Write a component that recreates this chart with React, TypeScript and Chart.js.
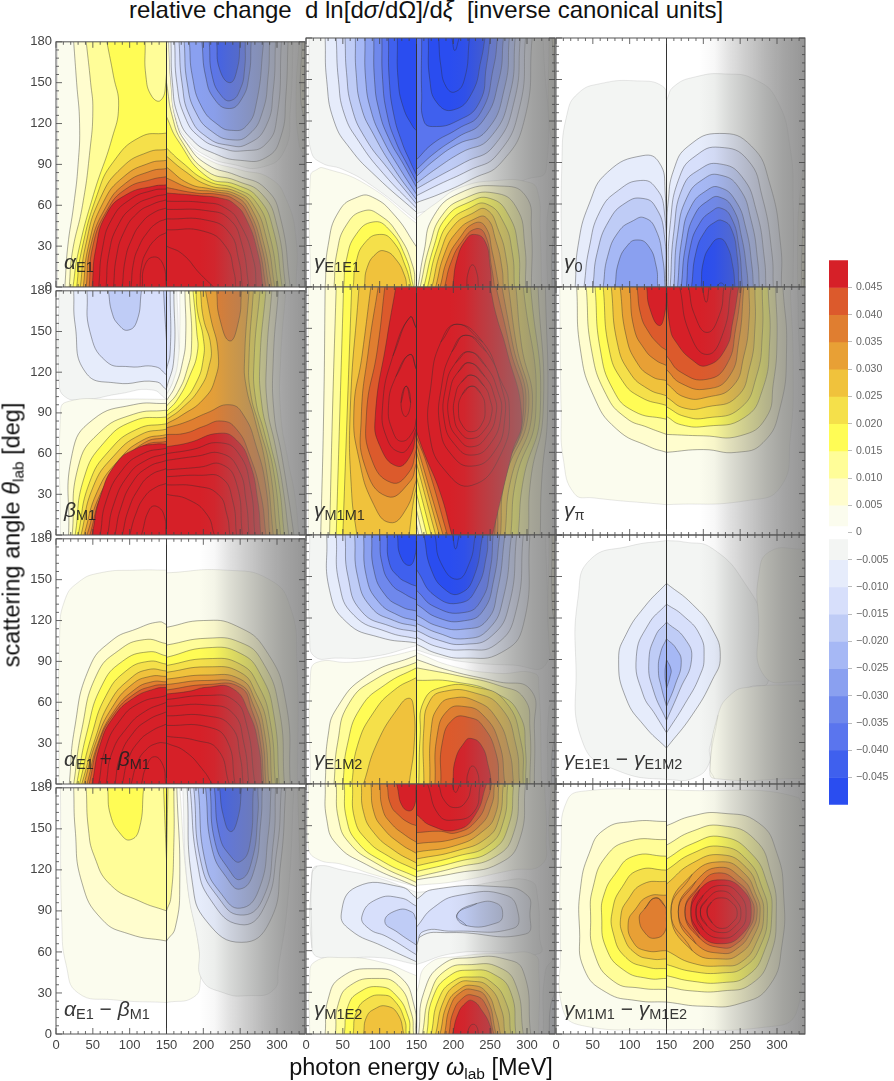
import { useEffect, useRef } from "react";
import { Chart, registerables } from "chart.js";

Chart.register(...registerables);

const FONT = "'Liberation Sans', Arial, sans-serif";

// contour regions: [level, energy, angle, energy, angle, ...], drawn in list order
// level n>0 means d > (n-1)*0.005, level n<0 means d < (n+1)*0.005
const alphaE1 = [
  [1, 2,0, 2,180, 150,180, 150,0],
  [2, 24,180, 28,150, 32,120, 30,90, 24,60, 16,30, 12,0, 150,0, 150,180],
  [3, 41,180, 47,150, 50,130, 46,100, 36,60, 22,25, 18,0, 150,0, 150,180],
  [4, 69,180, 78,155, 85,133, 76,109, 51,68, 30,25, 23,0, 150,0, 150,180],
  [3, 121,180, 122,155, 130,140, 142,137, 149,150, 150,180],
  [5, 150,113, 114,110, 78,92, 56,68, 34,25, 28,0, 150,0],
  [6, 150,101, 125,99, 90,88, 60,65, 40,30, 33,0, 150,0],
  [7, 150,93, 127,91, 92,81, 64,62, 44,30, 37,0, 150,0],
  [8, 150,87, 128,85, 94,76, 68,59, 47,30, 41,0, 150,0],
  [9, 150,81, 130,79, 95,72, 69,56, 50,30, 45,0, 150,0],
  [10, 150,75, 132,74, 96,68, 69,54, 54,28, 49,0, 150,0],
  [11, 150,72, 132,71, 100,64, 76,50, 63,28, 58,0, 150,0],
  [12, 150,68, 132,66, 105,59, 84,45, 72,25, 68,0, 150,0],
  [13, 150,64, 132,61, 110,54, 92,40, 82,22, 78,0, 150,0],
  [14, 150,58, 134,55, 116,47, 102,34, 94,20, 90,0, 150,0],
  [15, 150,50, 137,47, 124,40, 112,29, 105,17, 102,0, 150,0],
  [16, 150,40, 137,36, 123,26, 116,15, 114,0, 150,0],
  [17, 117,0, 120,15, 132,22, 145,17, 150,0],
  [1, 152,180, 154,150, 160,125, 175,108, 205,94, 250,86, 290,80, 312,65, 326,35, 326,0, 150,0, 150,180],
  [2, 150,180, 153,180, 156,150, 163,122, 178,105, 205,90, 245,82, 285,72, 305,50, 318,0, 150,0],
  [3, 150,150, 158,125, 172,106, 205,85, 245,78, 280,68, 300,45, 312,0, 150,0],
  [4, 150,125, 165,108, 205,81, 245,75, 275,65, 295,42, 307,0, 150,0],
  [5, 150,102, 170,92, 205,78, 245,72, 272,62, 290,38, 302,0, 150,0],
  [6, 150,96, 175,85, 205,75, 245,70, 268,60, 286,35, 297,0, 150,0],
  [7, 150,88, 180,76, 210,72, 245,68, 265,58, 282,32, 293,0, 150,0],
  [8, 150,80, 185,72, 215,70, 245,66, 262,56, 279,30, 289,0, 150,0],
  [9, 150,73, 190,69, 220,68, 243,64, 260,54, 276,28, 285,0, 150,0],
  [10, 150,69, 195,67, 225,65, 242,61, 258,50, 274,25, 281,0, 150,0],
  [11, 150,63, 200,62, 230,58, 250,46, 268,20, 272,0, 150,0],
  [12, 150,57, 205,56, 235,50, 252,32, 262,0, 150,0],
  [13, 150,50, 205,49, 235,40, 248,20, 253,0, 150,0],
  [14, 150,42, 200,41, 230,30, 242,10, 244,0, 150,0],
  [15, 150,30, 172,24, 195,10, 214,0, 150,0],
  [-1, 153,180, 156,150, 162,125, 178,108, 205,96, 240,90, 280,88, 310,100, 318,130, 322,180],
  [-2, 156,180, 158,150, 166,125, 185,108, 215,98, 250,93, 285,95, 305,110, 312,140, 315,180],
  [-3, 161,180, 164,150, 175,125, 195,110, 225,102, 255,100, 285,105, 300,125, 306,180],
  [-4, 167,180, 171,150, 182,125, 205,110, 235,104, 260,105, 285,118, 295,145, 298,180],
  [-5, 174,180, 178,150, 190,128, 212,114, 240,108, 262,112, 280,128, 288,155, 290,180],
  [-6, 181,180, 185,155, 198,132, 220,119, 238,115, 258,118, 272,135, 282,180],
  [-7, 198,180, 203,155, 215,138, 235,131, 252,138, 262,155, 265,180],
  [-8, 208,180, 212,155, 225,140, 238,137, 250,145, 256,160, 257,180],
  [-9, 218,180, 222,160, 236,150, 246,160, 250,180],
  [1, 330,180, 326,140, 330,105, 338,95, 338,180],
  [2, 334,180, 332,140, 338,120, 338,180],
];

const gammaE1E1 = [
  [-1, 4,180, 4,120, 7,98, 20,90, 50,85, 90,73, 150,48, 150,180],
  [-2, 26,180, 28,150, 38,120, 60,100, 95,80, 150,54, 150,180],
  [-3, 41,180, 44,150, 52,125, 72,105, 105,82, 150,57, 150,180],
  [-4, 53,180, 55,155, 62,130, 80,108, 112,85, 150,60, 150,180],
  [-5, 67,180, 68,155, 75,130, 92,110, 120,85, 150,63, 150,180],
  [-6, 80,180, 81,150, 88,128, 103,108, 128,85, 150,67, 150,180],
  [-7, 92,180, 93,150, 99,128, 112,108, 133,88, 150,72, 150,180],
  [-8, 103,180, 104,150, 110,125, 122,105, 138,88, 150,76, 150,180],
  [-9, 112,180, 113,150, 119,125, 130,105, 142,90, 150,81, 150,180],
  [-10, 124,180, 125,150, 132,130, 145,116, 150,113, 150,180],
  [1, 6,0, 6,80, 15,85, 24,86, 82,74, 150,46, 150,0],
  [2, 26,0, 30,30, 45,55, 70,65, 90,65, 120,52, 150,29, 150,0],
  [3, 38,0, 42,25, 55,45, 78,55, 100,52, 125,38, 145,15, 148,0],
  [4, 51,0, 55,20, 68,38, 91,47, 112,42, 135,22, 146,0],
  [5, 64,0, 68,18, 80,32, 100,38, 118,33, 135,15, 143,0],
  [6, 79,0, 83,14, 95,24, 107,26, 122,20, 134,8, 137,0],
  [-1, 150,53, 190,59, 240,68, 300,78, 326,85, 322,180, 150,180],
  [-2, 150,61, 185,68, 225,78, 265,90, 297,122, 307,180, 150,180],
  [-3, 150,66, 180,74, 220,84, 260,96, 290,130, 298,180, 150,180],
  [-4, 150,71, 180,80, 215,90, 255,102, 283,135, 291,180, 150,180],
  [-5, 150,75, 178,86, 210,97, 250,108, 277,140, 284,180, 150,180],
  [-6, 150,80, 175,92, 205,103, 245,113, 270,145, 276,180, 150,180],
  [-7, 150,85, 175,97, 205,108, 240,120, 262,150, 268,180, 150,180],
  [-8, 150,92, 173,104, 205,114, 237,126, 255,160, 260,180, 150,180],
  [-9, 157,180, 157,140, 160,120, 172,116, 205,120, 235,133, 245,160, 250,180],
  [-10, 166,180, 168,150, 178,133, 200,128, 225,140, 238,165, 243,180],
  [-11, 180,180, 183,160, 190,145, 202,141, 215,150, 222,180],
  [-12, 198,180, 202,171, 208,180],
  [1, 150,50, 175,60, 210,72, 260,77, 300,76, 314,70, 318,40, 320,0, 150,0],
  [2, 152,0, 160,25, 173,51, 209,68, 263,73, 298,66, 306,41, 306,0],
  [3, 155,0, 168,30, 185,52, 215,64, 255,68, 285,58, 297,30, 298,0],
  [4, 160,0, 174,30, 190,50, 220,61, 250,64, 275,52, 288,28, 290,0],
  [5, 165,0, 178,28, 195,47, 222,57, 245,60, 268,47, 280,25, 283,0],
  [6, 171,0, 183,26, 200,44, 225,53, 245,56, 262,40, 272,20, 275,0],
  [7, 176,0, 188,24, 205,40, 228,49, 245,50, 258,33, 266,14, 268,0],
  [8, 182,0, 192,20, 208,35, 228,46, 243,44, 253,25, 262,0],
  [9, 188,0, 197,18, 212,33, 230,42, 243,38, 252,14, 256,0],
  [10, 199,0, 205,20, 217,34, 229,38, 243,33, 250,15, 252,0],
  [11, 218,0, 220,10, 226,16, 232,10, 234,0],
  [-1, 338,65, 330,60, 327,30, 328,0, 338,0],
  [-2, 338,40, 334,25, 334,0, 338,0],
  [1, 330,180, 330,120, 338,95, 338,180],
  [2, 334,180, 338,150, 338,180],
];

const gamma0 = [
  [-1, 8,0, 8,90, 15,125, 30,140, 60,147, 110,149, 145,145, 150,135, 150,0],
  [-1, 150,135, 160,145, 190,152, 230,154, 270,150, 300,135, 318,100, 322,60, 322,0, 150,0],
  [-2, 26,0, 30,30, 45,60, 70,83, 118,95, 140,90, 148,70, 150,0],
  [-3, 38,0, 45,28, 60,55, 85,70, 115,77, 135,72, 147,55, 150,0],
  [-4, 50,0, 56,25, 72,48, 95,61, 118,64, 135,58, 147,38, 149,0],
  [-5, 64,0, 70,22, 85,40, 105,48, 120,50, 135,42, 145,20, 148,0],
  [-6, 80,0, 85,18, 97,30, 110,34, 125,30, 136,15, 138,0],
  [-2, 150,40, 152,60, 160,85, 180,102, 222,111, 265,102, 290,75, 305,30, 306,0, 150,0],
  [-3, 152,0, 155,45, 168,80, 190,95, 222,101, 260,92, 280,65, 293,25, 295,0],
  [-4, 155,0, 160,40, 172,72, 195,85, 222,89, 252,80, 272,55, 283,20, 285,0],
  [-5, 160,0, 165,38, 178,65, 200,78, 222,81, 248,72, 265,48, 274,18, 276,0],
  [-6, 165,0, 171,35, 183,58, 205,70, 222,72, 243,63, 258,42, 266,15, 268,0],
  [-7, 170,0, 176,30, 188,52, 208,63, 222,65, 240,57, 252,36, 259,12, 261,0],
  [-8, 177,0, 182,28, 195,46, 212,55, 224,57, 238,50, 248,30, 253,0],
  [-9, 184,0, 190,25, 202,40, 216,47, 226,48, 238,42, 246,22, 248,0],
  [-10, 197,0, 200,18, 210,30, 222,35, 232,30, 240,15, 243,0],
  [-11, 218,0, 224,3, 230,0],
  [1, 338,95, 330,60, 328,30, 328,0, 338,0],
  [2, 338,60, 334,30, 333,0, 338,0],
  [3, 338,25, 336,0, 338,0],
];

const betaM1 = [
  [-1, 4,180, 4,115, 12,102, 40,100, 85,104, 130,107, 150,100, 150,180],
  [-2, 24,180, 26,155, 40,120, 82,112, 135,113, 150,107, 150,180],
  [-3, 42,180, 46,150, 68,128, 100,124, 135,124, 150,118, 150,180],
  [-4, 71,180, 76,164, 85,155, 98,151, 110,158, 116,180],
  [-4, 146,180, 148,160, 150,143, 150,180],
  [1, 6,0, 6,88, 14,98, 82,100, 150,100, 150,0],
  [2, 17,0, 22,60, 50,85, 105,96, 150,97, 150,0],
  [3, 22,0, 30,50, 58,75, 105,89, 150,92, 150,0],
  [4, 26,0, 38,42, 65,68, 105,84, 150,87, 150,0],
  [5, 30,0, 45,38, 72,62, 110,78, 150,82, 150,0],
  [6, 34,0, 50,35, 78,58, 115,74, 150,78, 150,0],
  [7, 38,0, 56,32, 83,54, 118,70, 150,74, 150,0],
  [8, 42,0, 60,30, 88,52, 120,68, 150,72, 150,0],
  [9, 46,0, 62,30, 88,52, 120,66, 150,69, 150,0],
  [10, 49,0, 60,28, 82,53, 110,64, 135,67, 150,67, 150,0],
  [11, 60,0, 68,25, 90,48, 118,60, 150,64, 150,0],
  [12, 70,0, 78,22, 98,44, 122,55, 150,60, 150,0],
  [13, 80,0, 88,20, 104,39, 125,50, 150,55, 150,0],
  [14, 90,0, 98,18, 112,34, 128,44, 150,49, 150,0],
  [15, 100,0, 108,15, 120,28, 135,35, 150,38, 150,0],
  [16, 116,0, 127,19, 137,21, 147,14, 149,0],
  [-1, 150,180, 164,180, 166,150, 166,122, 155,108, 150,104],
  [-2, 150,180, 160,180, 160,130, 150,108],
  [-3, 150,180, 155,180, 155,135, 150,122],
  [1, 150,103, 160,115, 166,130, 168,150, 168,180, 312,180, 305,130, 305,90, 315,55, 324,30, 330,0, 150,0],
  [2, 150,99, 162,110, 172,128, 176,145, 175,180, 302,180, 295,130, 296,90, 306,60, 315,30, 323,0, 150,0],
  [3, 150,95, 165,105, 178,122, 184,140, 181,180, 293,180, 286,130, 287,95, 298,65, 308,35, 316,0, 150,0],
  [4, 150,91, 165,100, 182,118, 192,135, 191,150, 186,180, 285,180, 277,130, 279,98, 290,70, 302,40, 310,0, 150,0],
  [5, 150,88, 170,97, 190,112, 200,130, 200,145, 192,165, 190,180, 277,180, 269,130, 271,100, 283,75, 296,45, 305,0, 150,0],
  [6, 150,85, 170,93, 195,108, 208,125, 210,140, 200,160, 196,180, 268,180, 262,130, 264,105, 276,80, 290,50, 300,0, 150,0],
  [7, 150,82, 170,88, 200,100, 216,115, 220,135, 210,160, 203,180, 262,180, 256,130, 258,110, 270,85, 285,50, 295,0, 150,0],
  [8, 150,79, 175,83, 205,90, 236,96, 255,88, 272,65, 285,35, 290,0, 150,0],
  [8, 218,180, 222,160, 236,143, 248,158, 252,180],
  [9, 150,74, 175,75, 200,80, 225,84, 245,78, 262,60, 278,30, 285,0, 150,0],
  [10, 150,65, 180,68, 222,75, 245,70, 263,53, 274,25, 278,0, 150,0],
  [11, 150,60, 185,63, 222,68, 248,60, 264,35, 270,0, 150,0],
  [12, 150,55, 190,58, 225,60, 248,48, 258,25, 262,0, 150,0],
  [13, 150,48, 195,50, 225,52, 245,38, 253,0, 150,0],
  [14, 150,43, 195,44, 225,42, 240,25, 245,0, 150,0],
  [15, 150,37, 190,36, 220,30, 232,15, 236,0, 150,0],
  [16, 150,30, 180,26, 205,15, 215,0, 150,0],
];

const gammaM1M1 = [
  [1, 3,0, 3,180, 150,180, 150,0],
  [2, 26,180, 24,90, 20,0, 150,0, 150,180],
  [3, 41,180, 36,90, 32,0, 150,0, 150,180],
  [4, 51,180, 46,90, 41,0, 150,0, 150,180],
  [5, 62,180, 56,90, 50,0, 150,0, 150,180],
  [6, 72,180, 60,90, 62,30, 69,0, 140,0, 146,25, 150,35, 150,180],
  [7, 88,180, 76,130, 65,90, 72,55, 92,22, 114,9, 135,18, 150,40, 150,180],
  [8, 98,180, 85,135, 75,85, 80,50, 110,28, 140,38, 150,52, 150,180],
  [9, 107,180, 97,135, 82,87, 89,55, 116,38, 139,45, 150,62, 150,180],
  [10, 122,180, 110,143, 94,86, 100,65, 123,50, 141,57, 150,75, 150,180],
  [11, 141,158, 118,130, 104,94, 110,70, 128,60, 141,65, 150,78, 150,150, 141,158],
  [12, 141,131, 122,115, 112,94, 118,75, 130,68, 145,75, 150,85, 150,120, 141,131],
  [13, 136,108, 129,96, 135,86, 142,96, 136,108],
  [1, 150,180, 335,180, 335,0, 150,0],
  [2, 150,180, 325,180, 328,90, 320,40, 318,0, 153,0, 150,8],
  [3, 150,180, 315,180, 322,90, 305,40, 302,0, 158,0, 150,18],
  [4, 150,180, 305,180, 318,90, 295,40, 288,0, 164,0, 150,30],
  [5, 150,180, 295,180, 312,90, 285,40, 278,0, 170,0, 150,42],
  [6, 150,180, 285,180, 292,140, 307,90, 278,40, 270,0, 176,0, 150,52],
  [7, 150,180, 275,180, 285,140, 302,90, 270,40, 264,0, 181,0, 150,60],
  [8, 150,180, 266,180, 280,140, 298,90, 264,38, 260,0, 186,0, 150,66],
  [9, 150,180, 258,180, 276,138, 295,88, 262,35, 256,0, 192,0, 165,50, 150,71],
  [10, 150,180, 250,180, 258,160, 272,135, 293,85, 280,60, 253,0, 198,0, 182,31, 160,60, 150,75],
  [11, 205,153, 240,140, 262,115, 276,92, 264,58, 225,36, 190,46, 168,72, 170,110, 183,140, 205,153],
  [12, 217,145, 245,133, 265,108, 270,85, 255,60, 225,50, 198,58, 182,78, 184,108, 198,133, 217,145],
  [13, 222,133, 245,122, 260,105, 265,88, 250,66, 225,58, 203,65, 188,82, 190,108, 203,125, 222,133],
  [14, 222,125, 243,115, 255,102, 258,88, 246,72, 225,64, 207,70, 194,84, 196,106, 206,118, 222,125],
  [15, 225,116, 242,108, 250,98, 252,88, 242,76, 225,70, 210,74, 201,86, 203,102, 211,111, 225,116],
  [16, 225,108, 237,103, 243,92, 238,80, 225,75, 213,79, 207,90, 212,102, 225,108],
];

const gammaPi = [
  [1, 5,180, 7,90, 10,55, 25,30, 50,27, 150,22, 260,25, 305,35, 318,70, 322,120, 318,180],
  [-1, 338,100, 331,130, 328,180, 338,180],
  [2, 28,180, 33,135, 51,101, 82,77, 127,64, 150,60, 150,180],
  [3, 41,180, 48,135, 68,102, 95,85, 125,78, 150,73, 150,180],
  [4, 53,180, 60,135, 78,105, 105,90, 150,84, 150,180],
  [5, 64,180, 72,135, 90,112, 115,100, 150,94, 150,180],
  [6, 75,180, 83,140, 100,118, 125,106, 150,101, 150,180],
  [7, 87,180, 95,145, 110,125, 130,115, 150,112, 150,180],
  [8, 100,180, 106,150, 120,135, 135,127, 150,123, 150,180],
  [9, 110,180, 115,160, 125,148, 140,138, 150,134, 150,180],
  [10, 123,180, 127,165, 140,152, 148,162, 150,180],
  [2, 150,60, 200,62, 245,60, 281,67, 304,92, 313,135, 308,180, 150,180],
  [3, 150,73, 200,72, 250,72, 285,85, 295,110, 300,140, 298,180, 150,180],
  [4, 150,86, 170,80, 205,79, 255,85, 280,105, 290,140, 288,180, 150,180],
  [5, 150,93, 175,86, 205,85, 250,92, 272,115, 280,145, 280,180, 150,180],
  [6, 150,100, 175,92, 205,93, 245,100, 263,122, 270,150, 270,180, 150,180],
  [7, 150,110, 175,100, 205,100, 240,108, 255,130, 262,155, 262,180, 150,180],
  [8, 150,120, 170,110, 205,106, 235,115, 248,140, 255,180, 150,180],
  [9, 150,130, 170,118, 205,113, 232,124, 244,150, 252,180, 150,180],
  [10, 150,180, 155,150, 163,140, 185,127, 205,123, 230,135, 240,155, 248,180],
  [11, 168,180, 181,147, 205,131, 227,147, 238,180],
  [12, 180,180, 188,160, 205,147, 222,160, 228,180],
  [13, 198,180, 204,169, 208,180],
];

const alphaPlusBeta = [
  [1, 4,0, 5,110, 12,135, 30,148, 60,155, 110,157, 150,157, 150,0],
  [1, 150,155, 230,157, 290,150, 318,130, 327,90, 328,0, 150,0],
  [2, 18,0, 25,40, 45,85, 75,105, 110,114, 140,119, 150,117, 150,0],
  [3, 24,0, 35,40, 55,80, 85,98, 120,106, 150,103, 150,0],
  [4, 28,0, 42,38, 62,72, 90,90, 125,97, 150,94, 150,0],
  [5, 32,0, 48,35, 68,65, 95,83, 125,90, 150,88, 150,0],
  [6, 35,0, 53,33, 73,60, 100,77, 125,84, 150,83, 150,0],
  [7, 38,0, 55,32, 76,56, 103,73, 128,79, 150,79, 150,0],
  [8, 42,0, 57,30, 78,53, 106,69, 130,75, 150,75, 150,0],
  [9, 45,0, 58,30, 78,51, 106,66, 132,72, 150,73, 150,0],
  [10, 49,0, 60,29, 78,49, 105,63, 135,70, 150,71, 150,0],
  [11, 58,0, 67,26, 86,46, 112,59, 150,65, 150,0],
  [12, 68,0, 76,23, 96,41, 120,53, 150,60, 150,0],
  [13, 80,0, 87,20, 104,37, 125,47, 150,53, 150,0],
  [14, 90,0, 98,18, 112,31, 130,39, 150,44, 150,0],
  [15, 102,0, 110,15, 122,25, 138,30, 150,30, 150,0],
  [16, 116,0, 122,12, 133,20, 145,14, 149,0],
  [2, 150,115, 200,120, 245,116, 285,98, 312,60, 318,0, 150,0],
  [3, 150,102, 205,107, 250,104, 280,90, 303,55, 310,0, 150,0],
  [4, 150,93, 205,100, 250,96, 278,80, 296,50, 303,0, 150,0],
  [5, 150,87, 205,92, 250,88, 275,72, 291,45, 298,0, 150,0],
  [6, 150,82, 205,86, 250,82, 272,66, 287,42, 293,0, 150,0],
  [7, 150,77, 205,80, 250,77, 270,62, 283,38, 289,0, 150,0],
  [8, 150,73, 205,76, 250,73, 268,58, 280,35, 285,0, 150,0],
  [9, 150,69, 205,73, 250,71, 266,54, 277,32, 282,0, 150,0],
  [10, 150,66, 180,68, 205,71, 240,70, 262,52, 275,28, 280,0, 150,0],
  [11, 150,62, 205,65, 240,62, 258,45, 270,0, 150,0],
  [12, 150,57, 205,58, 240,52, 255,30, 262,0, 150,0],
  [13, 150,50, 205,50, 238,42, 250,20, 254,0, 150,0],
  [14, 150,43, 205,42, 232,32, 243,0, 150,0],
  [15, 150,35, 190,32, 220,25, 235,0, 150,0],
  [16, 150,30, 175,24, 200,10, 212,0, 150,0],
];

const gammaE1M2 = [
  [-1, 5,180, 5,105, 12,92, 40,91, 90,92, 150,100, 150,180],
  [-2, 28,180, 32,140, 55,117, 100,106, 150,102, 150,180],
  [-3, 41,180, 45,145, 65,122, 110,110, 150,105, 150,180],
  [-4, 53,180, 57,150, 75,125, 115,114, 150,110, 150,180],
  [-5, 66,180, 70,150, 88,128, 120,118, 150,114, 150,180],
  [-6, 78,180, 82,150, 98,132, 125,122, 150,118, 150,180],
  [-7, 89,180, 92,155, 107,137, 130,128, 150,125, 150,180],
  [-8, 100,180, 103,160, 115,145, 135,137, 150,133, 150,180],
  [-9, 110,180, 113,160, 125,150, 140,145, 150,143, 150,180],
  [-10, 124,180, 128,165, 140,158, 148,165, 150,180],
  [-1, 150,97, 180,92, 220,88, 280,86, 325,86, 328,120, 325,180, 150,180],
  [-2, 150,101, 180,94, 215,91, 265,95, 295,115, 304,180, 150,180],
  [-3, 150,106, 180,99, 215,97, 258,101, 285,125, 295,180, 150,180],
  [-4, 150,111, 180,104, 215,101, 252,107, 276,130, 286,180, 150,180],
  [-5, 150,116, 180,109, 215,105, 248,112, 268,135, 279,180, 150,180],
  [-6, 150,122, 180,114, 215,112, 245,118, 260,140, 270,180, 150,180],
  [-7, 150,130, 180,120, 215,118, 240,125, 255,148, 263,180, 150,180],
  [-8, 150,140, 175,128, 215,124, 238,133, 250,155, 254,180, 150,180],
  [-9, 150,155, 175,136, 210,131, 232,142, 245,165, 247,180, 150,180],
  [-10, 160,180, 170,155, 190,140, 210,138, 228,150, 240,180],
  [-11, 175,180, 183,160, 205,148, 222,160, 230,180],
  [-12, 199,180, 203,170, 208,180],
  [1, 6,0, 6,78, 15,88, 60,88, 110,92, 150,97, 150,0],
  [2, 26,0, 30,35, 42,55, 82,78, 150,93, 150,0],
  [3, 38,0, 43,30, 58,58, 95,76, 150,88, 150,0],
  [4, 50,0, 56,28, 74,55, 108,72, 150,84, 150,0],
  [5, 62,0, 70,28, 92,52, 120,68, 150,77, 150,0],
  [6, 78,0, 96,29, 125,55, 140,62, 146,55, 147,30, 140,0],
  [1, 150,95, 200,85, 260,80, 310,80, 316,70, 320,0, 150,0],
  [2, 150,90, 195,82, 260,74, 305,68, 310,40, 310,0, 150,0],
  [3, 150,84, 209,78, 263,71, 296,62, 304,40, 304,0, 150,0],
  [4, 150,75, 200,74, 260,65, 290,50, 298,25, 298,0, 150,0],
  [5, 153,0, 155,35, 160,60, 185,70, 230,70, 270,60, 292,30, 295,0],
  [6, 160,0, 160,40, 168,60, 188,67, 228,66, 265,55, 285,28, 290,0],
  [7, 168,0, 170,40, 180,56, 198,62, 230,60, 258,48, 276,24, 282,0],
  [8, 175,0, 178,35, 192,53, 215,56, 240,50, 262,30, 270,0],
  [9, 183,0, 185,30, 200,47, 222,48, 240,42, 258,22, 262,0],
  [10, 199,0, 203,18, 215,30, 223,33, 238,28, 248,12, 252,0],
  [11, 218,0, 220,8, 226,13, 233,8, 235,0],
  [-1, 338,60, 330,55, 328,0, 338,0],
  [-2, 338,35, 334,22, 333,0, 338,0],
  [1, 330,180, 330,100, 338,85, 338,180],
  [2, 334,180, 334,130, 338,115, 338,180],
];

const gammaE1Diff = [
  [-1, 150,176, 100,172, 46,162, 30,135, 27,87, 37,29, 82,10, 158,3, 190,5, 208,15, 209,27, 232,58, 263,70, 288,74, 281,116, 259,143, 213,170, 173,175, 150,176],
  [1, 209,12, 220,50, 238,65, 262,70, 338,72, 338,4, 215,4, 209,12],
  [1, 338,170, 290,168, 275,150, 275,120, 283,78, 338,74, 338,170],
  [-2, 150,145, 120,128, 95,108, 85,90, 95,62, 120,42, 150,26, 185,50, 212,75, 223,92, 212,112, 185,130, 150,145],
  [-3, 150,130, 125,115, 109,92, 118,65, 135,50, 150,37, 175,58, 195,78, 201,92, 195,108, 172,122, 150,130],
  [-4, 150,117, 135,107, 126,88, 132,68, 150,46, 168,68, 184,90, 175,105, 150,117],
  [-5, 150,105, 142,95, 139,82, 143,70, 150,56, 162,72, 170,88, 163,98, 150,105],
  [-6, 150,90, 148,80, 150,69, 155,78, 156,83, 150,90],
];

const alphaMinusBeta = [
  [1, 6,180, 8,80, 14,50, 30,30, 78,25, 150,23, 187,27, 196,39, 194,63, 178,111, 168,180],
  [2, 24,180, 26,150, 35,111, 62,84, 100,73, 150,68, 162,78, 168,111, 164,180],
  [3, 41,180, 44,150, 52,130, 74,109, 114,97, 150,90, 156,100, 160,140, 160,180],
  [4, 70,180, 74,160, 88,146, 101,142, 113,150, 119,180],
  [4, 146,180, 150,127, 152,180],
  [-1, 172,180, 178,111, 194,63, 198,40, 228,30, 259,28, 295,32, 302,49, 315,100, 323,180],
  [-2, 178,180, 185,111, 205,82, 252,67, 290,82, 305,125, 312,180],
  [-3, 182,180, 192,125, 210,98, 250,80, 282,92, 300,135, 306,180],
  [-4, 187,180, 197,125, 220,100, 250,87, 280,98, 295,140, 298,180],
  [-5, 193,180, 203,125, 225,102, 250,92, 275,105, 288,145, 292,180],
  [-6, 203,180, 212,135, 232,114, 250,106, 268,118, 278,155, 280,180],
  [-7, 209,180, 216,140, 235,120, 250,113, 265,125, 274,160, 274,180],
  [-8, 215,180, 222,145, 237,130, 250,126, 263,138, 268,180],
  [-9, 222,180, 227,160, 237,148, 247,158, 252,180],
  [1, 338,80, 332,120, 328,180, 338,180],
];

const gammaM1E2 = [
  [1, 3,180, 3,135, 15,126, 50,122, 90,115, 150,106, 150,180],
  [2, 26,180, 28,155, 41,137, 82,122, 150,106, 150,180],
  [3, 41,180, 44,155, 58,138, 95,123, 150,109, 150,180],
  [4, 52,180, 55,155, 70,138, 105,124, 150,113, 150,180],
  [5, 63,180, 66,155, 82,140, 112,128, 150,118, 150,180],
  [6, 75,180, 78,160, 92,145, 120,132, 150,123, 150,180],
  [7, 88,180, 92,160, 105,148, 128,137, 150,130, 150,180],
  [8, 100,180, 104,162, 115,152, 135,143, 150,138, 150,180],
  [9, 110,180, 115,165, 127,157, 140,152, 150,150, 150,180],
  [10, 123,180, 132,163, 145,162, 150,180],
  [-1, 8,115, 15,121, 50,118, 100,112, 150,102, 150,50, 100,55, 20,55, 8,62, 8,115],
  [-2, 150,98, 128,106, 69,106, 48,87, 60,75, 105,63, 150,52],
  [-3, 150,92, 128,98, 96,97, 76,85, 85,76, 110,70, 150,57],
  [-4, 150,82, 143,88, 123,89, 107,81, 125,73, 150,64],
  [1, 150,107, 205,110, 280,118, 320,122, 326,140, 324,180, 150,180],
  [2, 150,111, 205,116, 263,123, 290,140, 298,180, 150,180],
  [3, 150,113, 205,120, 258,128, 282,145, 290,180, 150,180],
  [4, 150,117, 205,124, 252,132, 275,150, 282,180, 150,180],
  [5, 150,121, 205,128, 248,136, 268,153, 274,180, 150,180],
  [6, 150,126, 205,132, 245,141, 262,155, 268,180, 150,180],
  [7, 150,131, 205,136, 240,146, 257,158, 262,180, 150,180],
  [8, 150,137, 205,141, 236,150, 252,165, 256,180, 150,180],
  [9, 150,145, 180,146, 205,145, 232,154, 247,170, 252,180, 150,180],
  [10, 150,158, 170,150, 205,147, 230,158, 245,180, 150,180],
  [11, 165,180, 180,158, 200,154, 228,160, 237,180],
  [12, 180,180, 188,168, 203,163, 218,168, 225,180],
  [13, 198,180, 203,174, 209,180],
  [-1, 150,102, 200,104, 263,110, 305,110, 314,100, 317,70, 317,58, 260,59, 200,58, 150,50],
  [-2, 150,97, 172,104, 263,106, 300,100, 304,87, 298,72, 195,73, 155,70, 150,58],
  [-3, 150,77, 173,91, 209,100, 271,100, 288,87, 281,76, 200,74, 160,74, 150,64],
  [-4, 205,86, 232,94, 259,94, 267,86, 259,80, 218,78, 205,86],
  [1, 5,0, 5,40, 12,52, 50,55, 100,52, 150,42, 150,0],
  [2, 26,0, 30,25, 48,41, 91,47, 128,41, 147,20, 149,0],
  [3, 40,0, 44,22, 60,35, 95,40, 125,35, 143,15, 146,0],
  [4, 52,0, 57,20, 72,30, 100,34, 122,28, 139,12, 141,0],
  [5, 64,0, 68,15, 82,25, 105,28, 120,24, 134,10, 136,0],
  [6, 78,0, 82,12, 93,18, 110,20, 125,14, 133,0],
  [1, 152,0, 150,30, 165,50, 210,56, 270,58, 310,57, 316,45, 316,0],
  [2, 153,0, 160,30, 185,50, 225,55, 270,54, 295,45, 305,0],
  [3, 158,0, 168,28, 190,46, 225,50, 262,48, 285,35, 295,0],
  [4, 164,0, 172,26, 195,42, 225,46, 255,43, 278,30, 285,0],
  [5, 170,0, 180,25, 200,38, 225,41, 250,38, 272,22, 278,0],
  [6, 176,0, 187,24, 205,36, 225,38, 248,34, 265,18, 270,0],
  [7, 182,0, 192,22, 208,32, 225,35, 245,30, 258,14, 264,0],
  [8, 188,0, 196,20, 210,30, 226,32, 245,26, 258,0],
  [9, 194,0, 200,16, 213,26, 226,28, 243,22, 255,0],
  [10, 199,0, 206,14, 216,22, 226,24, 240,16, 250,6, 252,0],
  [11, 219,0, 222,5, 227,7, 232,5, 234,0],
  [-1, 338,55, 325,45, 322,0, 338,0],
  [-2, 338,30, 332,20, 330,0, 338,0],
  [1, 333,180, 330,140, 338,120, 338,180],
];

const gammaM1Diff = [
  [1, 150,176, 40,175, 15,168, 7,135, 6,60, 9,18, 36,6, 150,3, 285,5, 326,15, 332,60, 335,120, 330,170, 150,176],
  [2, 150,153, 104,153, 65,147, 45,130, 33,104, 32,75, 38,47, 68,30, 110,24, 150,23],
  [3, 150,140, 100,139, 68,128, 50,105, 47,85, 52,58, 78,38, 115,33, 150,32],
  [4, 150,128, 105,128, 80,115, 65,100, 62,85, 68,62, 92,46, 125,40, 150,40],
  [5, 150,118, 112,118, 90,106, 77,90, 78,72, 95,55, 125,48, 150,47],
  [6, 150,110, 118,108, 98,97, 88,85, 92,70, 108,58, 130,54, 150,54],
  [7, 150,100, 125,99, 108,90, 98,80, 105,66, 122,60, 150,60],
  [8, 135,98, 120,90, 113,83, 122,72, 135,69, 148,74, 150,85, 148,92, 135,98],
  [2, 150,150, 185,157, 225,159, 275,152, 300,130, 309,100, 307,65, 290,35, 250,22, 200,20, 150,23],
  [3, 150,136, 185,146, 225,150, 270,140, 292,115, 299,87, 290,55, 265,36, 226,31, 185,31, 150,34],
  [4, 150,126, 185,137, 225,142, 265,130, 287,108, 293,87, 283,60, 260,42, 226,37, 185,38, 150,42],
  [5, 150,118, 185,130, 225,135, 260,125, 280,105, 287,87, 278,64, 255,48, 226,44, 185,45, 150,50],
  [6, 150,108, 185,123, 225,129, 258,120, 275,103, 282,87, 273,67, 252,52, 226,49, 185,51, 150,60],
  [7, 156,88, 185,115, 225,124, 255,116, 271,101, 277,87, 268,70, 250,58, 226,54, 185,60, 156,88],
  [8, 166,88, 190,110, 222,120, 252,112, 267,100, 273,87, 264,73, 247,62, 226,58, 190,65, 166,88],
  [9, 175,88, 195,107, 220,116, 250,108, 264,98, 269,87, 261,75, 245,65, 226,62, 195,69, 175,88],
  [10, 183,88, 195,104, 224,111, 253,104, 265,88, 253,72, 224,65, 195,72, 183,88],
  [11, 190,88, 200,100, 224,107, 248,101, 258,86, 247,74, 225,69, 200,75, 190,88],
  [12, 196,88, 205,97, 224,103, 243,97, 251,86, 242,77, 225,73, 205,78, 196,88],
  [13, 205,88, 211,95, 224,98, 238,95, 246,87, 239,80, 226,76, 212,80, 205,88],
];

const panelData = [alphaE1, gammaE1E1, gamma0, betaM1, gammaM1M1, gammaPi, alphaPlusBeta, gammaE1M2, gammaE1Diff, alphaMinusBeta, gammaM1E2, gammaM1Diff];

const panelLabels = [
  [["α", "E1"]],
  [["γ", "E1E1"]],
  [["γ", "0"]],
  [["β", "M1"]],
  [["γ", "M1M1"]],
  [["γ", "π"]],
  [["α", "E1"], [" + "], ["β", "M1"]],
  [["γ", "E1M2"]],
  [["γ", "E1E1"], [" − "], ["γ", "E1M2"]],
  [["α", "E1"], [" − "], ["β", "M1"]],
  [["γ", "M1E2"]],
  [["γ", "M1M1"], [" − "], ["γ", "M1E2"]],
];

// colour of a band, index = |level| - 1
const warmColors = ["#FBFCEE", "#FFFDCE", "#FFFD98", "#FFFC55", "#F5E04A", "#F0C23C", "#E8A035", "#E07E30", "#DC5A2C", "#D62028"];
const coolColors = ["#F3F5F3", "#E6ECFB", "#D7DFFB", "#BFCCF6", "#A6B8F5", "#8AA0F0", "#6F88EC", "#5A75EE", "#3F60EE", "#2A4DF0"];

// legend
const legendLows = [0.045, 0.04, 0.035, 0.03, 0.025, 0.02, 0.015, 0.01, 0.005, 0.0012, -0.0012, -0.005, -0.01, -0.015, -0.02, -0.025, -0.03, -0.035, -0.04, -0.045, -0.05];
const legendHighs = [0.05, 0.045, 0.04, 0.035, 0.03, 0.025, 0.02, 0.015, 0.01, 0.005, 0.0012, -0.0012, -0.005, -0.01, -0.015, -0.02, -0.025, -0.03, -0.035, -0.04, -0.045];

// grey fade towards the high energy side
const fadeEnergies = [195, 215, 236, 263, 285, 308, 338];
const fadeAlphas = [0, 0.06, 0.24, 0.43, 0.58, 0.71, 0.83];

const X_MAX = 338;
const PION_LINE = 150;
const colLefts = [56, 306, 556];
const rowTops = [38, 287, 535, 784];
const rowHeights = [249, 248, 249, 250];
const PANEL_W = 249;
const M = { left: 30, right: 8, top: 8, bottom: 24 };

const isEdge = (x: number, y: number) => x === 0 || x === X_MAX || x === PION_LINE || y === 0 || y === 180;

function regionPoints(region: number[]) {
  const raw: { x: number; y: number }[] = [];
  for (let i = 1; i < region.length; i += 2) raw.push({ x: region[i], y: region[i + 1] });
  const n = raw.length;
  // closed loop: run past the seam so the spline has no cusp at the start
  const closed = raw[0].x === raw[n - 1].x && raw[0].y === raw[n - 1].y && !isEdge(raw[0].x, raw[0].y);
  const walk = closed ? [raw[n - 2], ...raw, raw[1]] : raw;
  const pts: { x: number; y: number }[] = [];
  for (const p of walk) {
    pts.push({ ...p });
    // doubled point gives a sharp corner in the spline
    if (isEdge(p.x, p.y)) pts.push({ ...p });
  }
  return pts;
}

function bandColor(level: number) {
  const i = Math.min(Math.abs(level), 10) - 1;
  return level > 0 ? warmColors[i] : coolColors[i];
}

const panelFrame = {
  id: "panelFrame",
  afterDatasetsDraw(chart: any) {
    const { ctx, chartArea: a, scales } = chart;
    const xs = scales.x;
    const ys = scales.y;
    ctx.save();
    const grad = ctx.createLinearGradient(a.left, 0, a.right, 0);
    fadeEnergies.forEach((e, i) => {
      grad.addColorStop((xs.getPixelForValue(e) - a.left) / (a.right - a.left), `rgba(128,128,128,${fadeAlphas[i]})`);
    });
    ctx.fillStyle = grad;
    ctx.fillRect(xs.getPixelForValue(fadeEnergies[0]), a.top, a.right - xs.getPixelForValue(fadeEnergies[0]), a.bottom - a.top);

    ctx.strokeStyle = "#333";
    ctx.lineWidth = 1;
    const px = Math.floor(xs.getPixelForValue(PION_LINE)) + 0.5;
    ctx.beginPath();
    ctx.moveTo(px, a.top);
    ctx.lineTo(px, a.bottom);
    ctx.stroke();

    ctx.strokeStyle = "#444";
    ctx.lineWidth = 0.8;
    ctx.beginPath();
    for (let e = 0; e <= X_MAX; e += 10) {
      const p = xs.getPixelForValue(e);
      const len = e % 50 === 0 ? 6 : 3;
      ctx.moveTo(p, a.top);
      ctx.lineTo(p, a.top + len);
      ctx.moveTo(p, a.bottom);
      ctx.lineTo(p, a.bottom - len);
    }
    for (let d = 0; d <= 180; d += 6) {
      const p = ys.getPixelForValue(d);
      const len = d % 30 === 0 ? 6 : 3;
      ctx.moveTo(a.left, p);
      ctx.lineTo(a.left + len, p);
      ctx.moveTo(a.right, p);
      ctx.lineTo(a.right - len, p);
    }
    ctx.stroke();
    ctx.lineWidth = 1;
    ctx.strokeStyle = "#555";
    ctx.strokeRect(a.left, a.top, a.right - a.left, a.bottom - a.top);
    ctx.restore();
  },
};

function ContourPanel({ index }: { index: number }) {
  const ref = useRef<HTMLCanvasElement>(null);
  const col = index % 3;
  const row = Math.floor(index / 3);

  useEffect(() => {
    if (!ref.current) return;
    // chart.js paints dataset 0 last, so the list goes in reversed
    const datasets = [...panelData[index]].reverse().map((r) => ({
      data: regionPoints(r),
      fill: "shape",
      backgroundColor: bandColor(r[0]),
      borderColor: Math.abs(r[0]) === 1 ? "rgba(110,110,110,0.2)" : "rgba(45,45,45,0.5)",
      borderWidth: 0.8,
      pointRadius: 0,
      tension: 0.5,
    }));
    const chart = new Chart(ref.current, {
      type: "line",
      data: { datasets } as any,
      plugins: [panelFrame],
      options: {
        responsive: false,
        animation: false,
        layout: { autoPadding: false, padding: { top: M.top, right: M.right, left: 0, bottom: 0 } },
        plugins: { legend: { display: false }, tooltip: { enabled: false } },
        scales: {
          x: {
            type: "linear",
            min: 0,
            max: X_MAX,
            grid: { display: false, drawTicks: false },
            border: { display: false },
            afterFit: (s: any) => { s.height = M.bottom; },
            ticks: {
              display: row === 3,
              stepSize: 50,
              includeBounds: false,
              maxRotation: 0,
              padding: 4,
              color: "#444",
              font: { family: FONT, size: 13 },
            },
          },
          y: {
            type: "linear",
            min: 0,
            max: 180,
            grid: { display: false, drawTicks: false },
            border: { display: false },
            afterFit: (s: any) => { s.width = M.left; },
            ticks: {
              display: col === 0,
              stepSize: 30,
              padding: 4,
              color: "#444",
              font: { family: FONT, size: 13 },
            },
          },
        },
      } as any,
    });
    return () => chart.destroy();
  }, [index, col, row]);

  const left = colLefts[col];
  const top = rowTops[row];
  const h = rowHeights[row];
  return (
    <>
      <canvas
        ref={ref}
        width={PANEL_W + M.left + M.right}
        height={h + M.top + M.bottom}
        style={{ position: "absolute", left: left - M.left, top: top - M.top, filter: "blur(0.35px)" }}
      />
      <div style={{ position: "absolute", left: left + 8, top: top + h - 38, fontFamily: FONT, fontSize: 21, color: "#222", whiteSpace: "pre", lineHeight: "26px", opacity: 0.9 }}>
        {panelLabels[index].map((part, i) =>
          part.length === 1 ? (
            <span key={i}>{part[0]}</span>
          ) : (
            <span key={i}>
              <i>{part[0]}</i>
              <span style={{ fontSize: 14.5, position: "relative", top: 3 }}>{part[1]}</span>
            </span>
          )
        )}
      </div>
    </>
  );
}

function ColorLegend() {
  const ref = useRef<HTMLCanvasElement>(null);
  useEffect(() => {
    if (!ref.current) return;
    const colors = [...warmColors].reverse().concat("#FFFFFF", coolColors);
    const chart = new Chart(ref.current, {
      type: "bar",
      data: {
        labels: [""],
        datasets: legendLows.map((lo, i) => ({
          data: [[lo, legendHighs[i]]],
          backgroundColor: colors[i],
          borderWidth: 0,
          grouped: false,
          barPercentage: 1,
          categoryPercentage: 1,
        })),
      } as any,
      options: {
        responsive: false,
        animation: false,
        layout: { autoPadding: false, padding: { top: 10, bottom: 10 } },
        plugins: { legend: { display: false }, tooltip: { enabled: false } },
        scales: {
          x: { display: false },
          y: {
            position: "right",
            min: -0.05,
            max: 0.05,
            border: { display: false },
            grid: { drawOnChartArea: false, tickLength: 4, color: "#bbb" },
            afterFit: (s: any) => { s.width = 45; },
            afterBuildTicks: (s: any) => {
              s.ticks = s.ticks.filter((t: any) => Math.abs(t.value) < 0.0499);
            },
            ticks: {
              stepSize: 0.005,
              padding: 4,
              color: "#666",
              font: { family: FONT, size: 10.5 },
              callback: (v: any) => {
                const n = Number(v);
                if (Math.abs(n) < 1e-6) return "0";
                return (n < 0 ? "−" : "") + Math.abs(n).toFixed(3);
              },
            },
          },
        },
      } as any,
    });
    return () => chart.destroy();
  }, []);
  return <canvas ref={ref} width={64} height={565} style={{ position: "absolute", left: 829, top: 250 }} />;
}

const textStyle = { position: "absolute", fontFamily: FONT, color: "#111", whiteSpace: "pre" } as const;
const subStyle = { fontSize: 15.5, position: "relative", top: 4 } as const;

export default function App() {
  return (
    <div style={{ position: "absolute", left: 0, top: 0, width: 894, height: 1081, background: "#fff", overflow: "hidden" }}>
      <div style={{ ...textStyle, left: 0, width: 852, top: -3, textAlign: "center", fontSize: 24, lineHeight: "26px" }}>
        {"relative change  d ln[d"}<i>σ</i>{"/dΩ]/d"}<i>ξ</i>{"  [inverse canonical units]"}
      </div>
      {panelData.map((_, i) => (
        <ContourPanel key={i} index={i} />
      ))}
      <ColorLegend />
      <div style={{ ...textStyle, left: 13, top: 535, fontSize: 23.5, lineHeight: "26px", transform: "translate(-50%,-50%) rotate(-90deg)" }}>
        {"scattering angle "}<i>θ</i><span style={subStyle}>lab</span>{" [deg]"}
      </div>
      <div style={{ ...textStyle, left: 421, top: 1054, fontSize: 23.5, lineHeight: "26px", transform: "translateX(-50%)" }}>
        {"photon energy "}<i>ω</i><span style={subStyle}>lab</span>{" [MeV]"}
      </div>
    </div>
  );
}
